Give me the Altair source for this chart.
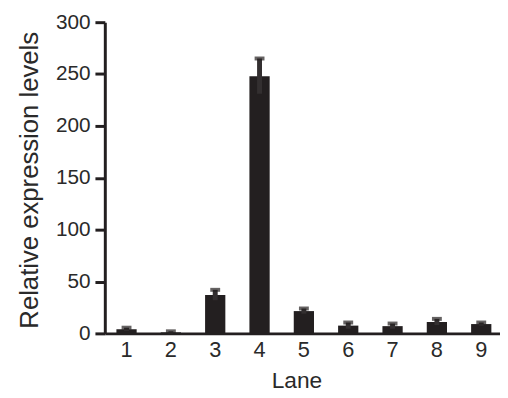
import altair as alt
import pandas as pd

lanes = ["1", "2", "3", "4", "5", "6", "7", "8", "9"]
values = [4, 1, 37, 248, 21.5, 7.5, 7, 11, 9]
errors = [1.5, 1, 5, 17, 2.5, 3, 2.5, 3, 1.5]

df = pd.DataFrame({"lane": lanes, "value": values, "err": errors})
df["lo"] = df["value"] - df["err"]
df["hi"] = df["value"] + df["err"]

FONT = "Liberation Sans"
DARK = "#231f20"
TXT = "#2a2a2a"

xscale = alt.Scale(paddingInner=0.543, paddingOuter=0.228, align=0.573)
yscale = alt.Scale(domain=[0, 300], nice=False, zero=True)

x = alt.X("lane:N", scale=xscale, sort=lanes,
          axis=alt.Axis(title="Lane", labelAngle=0, ticks=False, labelPadding=6,
                        labelFontSize=22, titleFontSize=23, titleFontWeight="normal",
                        titleX=194, titleY=55, titleBaseline="alphabetic",
                        domainWidth=3, domainColor=DARK, labelColor=TXT,
                        titleColor=TXT, labelFont=FONT, titleFont=FONT))

bars = alt.Chart(df).mark_bar(color=DARK).encode(
    x=x,
    y=alt.Y("value:Q", scale=yscale,
            axis=alt.Axis(title="Relative expression levels", values=[0, 50, 100, 150, 200, 250, 300],
                          tickSize=10, tickWidth=3, tickColor=DARK, domainWidth=3, domainColor=DARK,
                          labelFontSize=21, titleFontSize=26, titleFontWeight="normal",
                          labelPadding=5, grid=False, labelColor=TXT, titleColor=TXT,
                          titleX=-68.5, titleY=159.5, titleAngle=-90, titleBaseline="alphabetic",
                          labelFont=FONT, titleFont=FONT)),
)

rules = alt.Chart(df).mark_rule(color="#332f30", strokeWidth=5).encode(
    x=alt.X("lane:N", sort=lanes, scale=xscale),
    y=alt.Y("lo:Q", scale=yscale),
    y2="hi:Q",
)

caps = alt.Chart(df).mark_tick(color=DARK, size=10, thickness=4).encode(
    x=alt.X("lane:N", sort=lanes, scale=xscale),
    y=alt.Y("hi:Q", scale=yscale),
)

chart = alt.layer(bars, rules, caps).properties(
    width=400, height=315,
    autosize=alt.AutoSizeParams(type="none"),
    padding={"left": 98, "top": 12, "right": 0, "bottom": 60},
).configure_view(stroke=None)

chart.save("out.html", embed_options={"renderer": "svg", "actions": False})
